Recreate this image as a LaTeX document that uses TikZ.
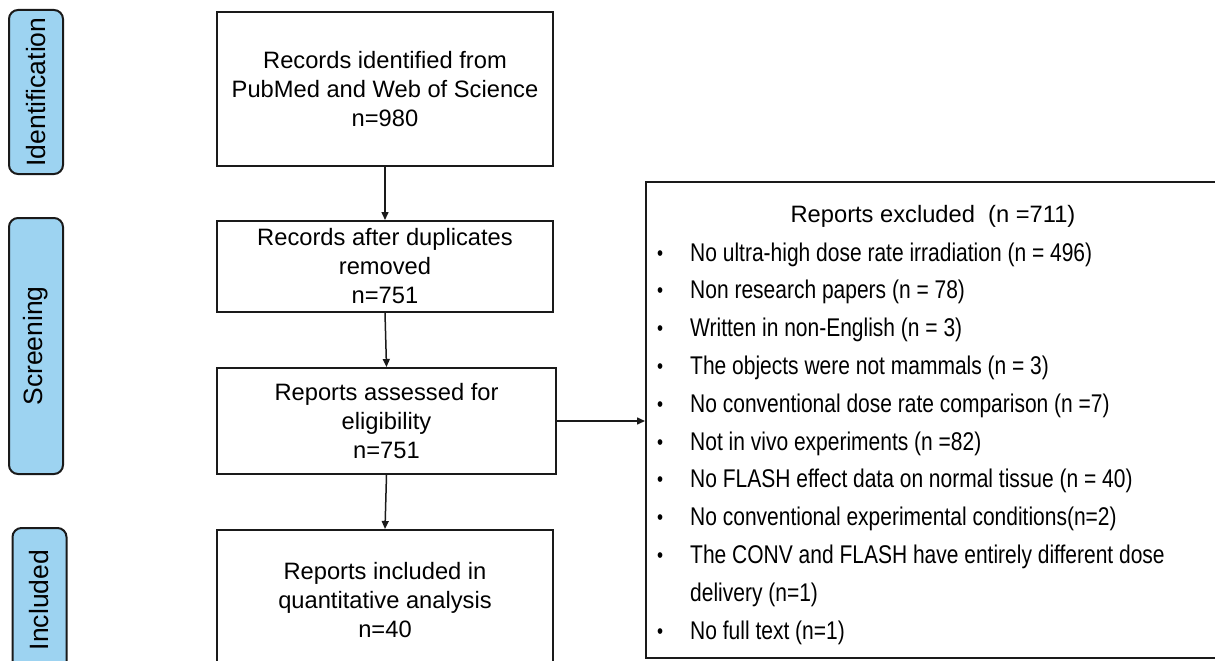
\documentclass[tikz,border=0pt]{standalone}
\usepackage{fontspec}
\setmainfont{Liberation Sans}
\newfontfamily\narrowfont[FakeStretch=0.82]{Liberation Sans}
\usetikzlibrary{arrows.meta}
\definecolor{stageblue}{HTML}{9DD3F1}
\definecolor{edge}{HTML}{1A1A1A}
\newcommand{\exbullet}{\makebox[40pt][l]{\hspace{7pt}\raisebox{1pt}{\fontsize{21pt}{21pt}\selectfont •}}}
\tikzset{
  mainbox/.style={draw=edge, line width=2pt, fill=white, align=center, inner sep=0pt,
    font=\fontsize{23.7pt}{29pt}\selectfont},
  stagebox/.style={draw=edge, line width=2pt, fill=stageblue, rounded corners=9pt,
    rotate=90, minimum height=54pt, inner sep=0pt, font=\fontsize{26.5pt}{30pt}\selectfont},
  flow/.style={draw=edge, line width=1.5pt, -{Triangle[length=8pt,width=7pt]}},
}
\begin{document}
\begin{tikzpicture}[x=1pt,y=-1pt]
\useasboundingbox (0,0) rectangle (1215,661);
\clip (0,0) rectangle (1215,661);
% stage labels
\node[stagebox, minimum width=164pt] (sid) at (36,92) {Identification};
\node[stagebox, minimum width=256pt] (sscr) at (36,346) {Screening};
\node[stagebox, minimum width=144pt] (sinc) at (39.5,600) {Included};
% main flow boxes
\node[mainbox, minimum width=336pt, minimum height=154pt] (b1) at (385,89)
  {Records identified from\\PubMed and Web of Science\\n=980};
\node[mainbox, minimum width=336pt, minimum height=91pt] (b2) at (385,266.5)
  {Records after duplicates\\removed\\n=751};
\node[mainbox, minimum width=339pt, minimum height=106pt] (b3) at (386.5,421)
  {Reports assessed for\\eligibility\\n=751};
\node[mainbox, minimum width=336pt, minimum height=140pt] (b4) at (385,600)
  {Reports included in\\quantitative analysis\\n=40};
% excluded box
\node[draw=edge, line width=2pt, fill=white, minimum width=574pt, minimum height=476pt, inner sep=0pt] (ex) at (933,420) {};
\node[anchor=base, inner sep=0pt, font=\fontsize{23.7pt}{29pt}\selectfont] (exhead) at (933,222)
  {Reports excluded\ \ (n =711)};
\node[anchor=base west, inner sep=0pt] (exitems) at (650,261)
  {\parbox[t]{560pt}{\narrowfont\fontsize{25.6pt}{37.8pt}\selectfont
   \exbullet No ultra-high dose rate irradiation (n = 496)\par
   \exbullet Non research papers (n = 78)\par
   \exbullet Written in non-English (n = 3)\par
   \exbullet The objects were not mammals (n = 3)\par
   \exbullet No conventional dose rate comparison (n =7)\par
   \exbullet Not in vivo experiments (n =82)\par
   \exbullet No FLASH effect data on normal tissue (n = 40)\par
   \exbullet No conventional experimental conditions(n=2)\par
   \exbullet The CONV and FLASH have entirely different dose\par
   \makebox[40pt][l]{}delivery (n=1)\par
   \exbullet No full text (n=1)}};
% connectors
\draw[flow] (b1.south) -- (b2.north);
\draw[flow] (b2.south) -- (b3.north);
\draw[flow] (b3.south) -- (b4.north);
\draw[flow] (b3.east) -- (b3.east -| ex.west);
\end{tikzpicture}
\end{document}
